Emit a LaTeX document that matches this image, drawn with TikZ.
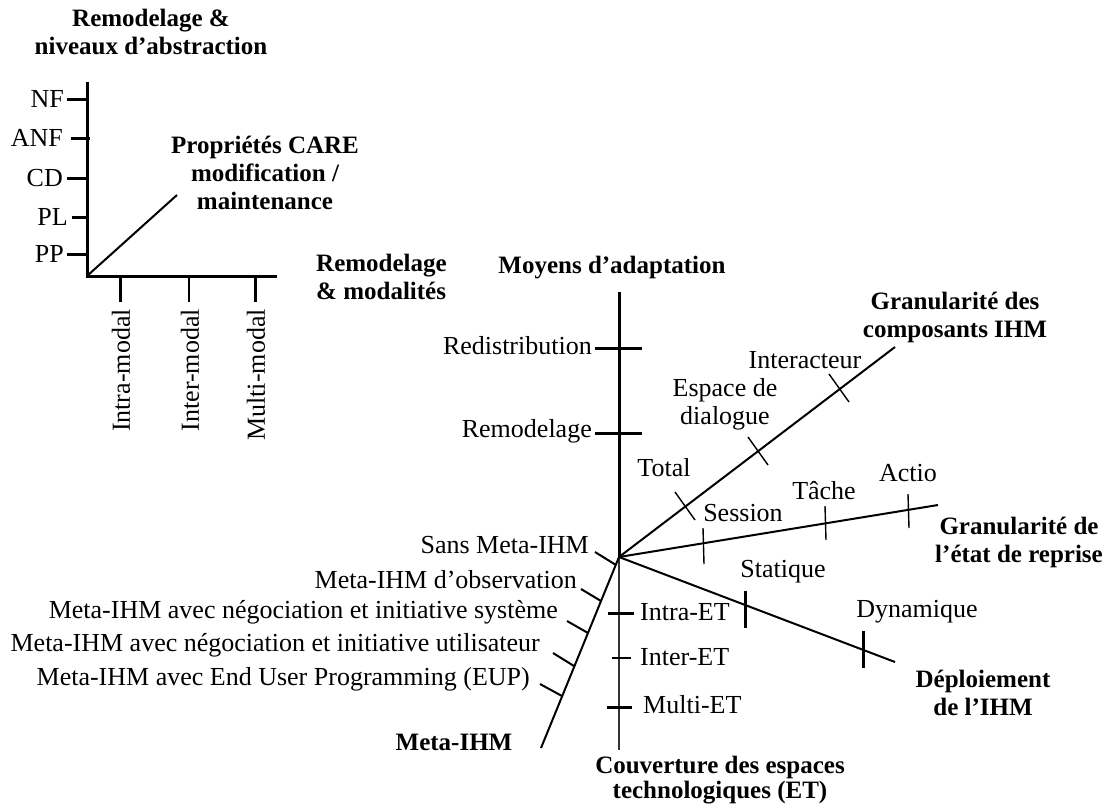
\documentclass[tikz,border=0pt]{standalone}
\usepackage{fontspec}
\setmainfont{Liberation Serif}
\begin{document}
\begin{tikzpicture}[x=1pt,y=-1pt,
  lab/.style={font=\fontsize{26}{28}\selectfont, inner sep=0pt, align=center},
  ttl/.style={font=\fontsize{25}{28}\selectfont\bfseries, inner sep=0pt, align=center},
  axthick/.style={line width=3pt},
  axthin/.style={line width=2pt},
  axfine/.style={line width=1.6pt, black!80},
  tk/.style={line width=3pt},
  tkmid/.style={line width=2pt},
  tkthin/.style={line width=1.4pt}]
\useasboundingbox (0,0) rectangle (1111,807);

% ---------- top-left small frame ----------
\coordinate (A0) at (87,276);
\coordinate (Atop) at (87,82);
\coordinate (Aright) at (277,276);
\coordinate (Adiag) at (177,195);
\draw[axthick] (Atop) -- (A0) -- (Aright);
\draw[axthin] (A0) -- (Adiag);

\node[ttl] (t1) at (151,32) {Remodelage \&\\niveaux d’abstraction};
\node[ttl] (t2) at (265,173) {Propriétés CARE\\modification /\\maintenance};
\node[ttl, align=left, anchor=west] (t3) at (316,277) {Remodelage\\\& modalités};

\node[lab, anchor=east] (nf)  at (64,99)  {NF};
\node[lab, anchor=east] (anf) at (63,138) {ANF};
\node[lab, anchor=east] (cd)  at (63,178) {CD};
\node[lab, anchor=east] (pl)  at (68,217) {PL};
\node[lab, anchor=east] (pp)  at (64,254) {PP};
\draw[tk] (67,99) -- (87,99);
\draw[tk] (71,138) -- (90,138);
\draw[tk] (67,178) -- (87,178);
\draw[tk] (72,217) -- (87,217);
\draw[tk] (67,254) -- (87,254);

\draw[tk] (120,276) -- (120,302);
\draw[tkmid] (189,276) -- (189,302);
\draw[tk] (255,276) -- (255,302);
\node[lab, rotate=90, anchor=east] (intram) at (121,309) {Intra-modal};
\node[lab, rotate=90, anchor=east] (interm) at (190,309) {Inter-modal};
\node[lab, rotate=90, anchor=east] (multim) at (256,309) {Multi-modal};

% ---------- main star ----------
\coordinate (O) at (619,557);
\coordinate (Vtop) at (619,292);
\coordinate (Vbot) at (619,750);
\coordinate (Gc) at (895,347);
\coordinate (Gr) at (938,505);
\coordinate (Dp) at (895,662);
\coordinate (Mi) at (541,748);

\draw[axthick] (Vtop) -- (O);
\draw[axfine] (O) -- (Vbot);
\draw[axthin] (O) -- (Gc);
\draw[axthin] (O) -- (Gr);
\draw[axthin] (O) -- (Dp);
\draw[axthin] (O) -- (Mi);

% Moyens d'adaptation
\node[ttl] (moy) at (612,268) {Moyens d’adaptation};
\draw[tk] (595,348) -- (642,348);
\draw[tk] (595,433) -- (642,433);
\node[lab, anchor=east] (redis) at (592,346) {Redistribution};
\node[lab, anchor=east] (remod) at (592,431) {Remodelage};

% Couverture ET
\draw[tk] (608,613) -- (634,613);
\draw[tkthin] (612,658) -- (631,658);
\draw[tk] (607,707) -- (632,707);
\node[lab, anchor=west] (intra) at (640,612) {Intra-ET};
\node[lab, anchor=west] (inter) at (640,657) {Inter-ET};
\node[lab, anchor=west] (multi) at (643,705) {Multi-ET};
\node[ttl, font=\fontsize{25}{25}\selectfont\bfseries] (couv) at (720,780) {Couverture des espaces\\technologiques (ET)};

% Granularite des composants
\draw[tkthin] (675,492) -- (695,520);
\draw[tkthin] (748,437) -- (768,465);
\draw[tkthin] (829,374) -- (849,402);
\node[lab] (total) at (664,468) {Total};
\node[lab] (espace) at (725,404) {Espace de\\dialogue};
\node[lab] (interac) at (805,360) {Interacteur};
\node[ttl] (gc) at (955,317) {Granularité des\\composants IHM};

% Granularite de l'etat de reprise
\draw[tkthin] (703,528) -- (704,564);
\draw[tkthin] (825,506) -- (826,540);
\draw[tkthin] (908,494) -- (909,528);
\node[lab] (session) at (743,513) {Session};
\node[lab] (tache) at (824,491) {Tâche};
\node[lab] (actio) at (908,473) {Actio};
\node[ttl] (gr) at (1019,542) {Granularité de\\l’état de reprise};

% Deploiement
\draw[tk] (745,591) -- (745,628);
\draw[tk] (863,631) -- (863,668);
\node[lab] (stat) at (783,572) {Statique};
\node[lab] (dyn) at (917,612) {Dynamique};
\node[ttl] (dep) at (983,693) {Déploiement\\de l’IHM};

% Meta-IHM
\draw[tkmid] (595,552) -- (616,565);
\draw[tkmid] (581,589) -- (601,601);
\draw[tkmid] (567,621) -- (588,633);
\draw[tkmid] (553,653) -- (574,666);
\draw[tkmid] (540,684) -- (562,696);
\node[lab, anchor=east] (m0) at (589,545) {Sans Meta-IHM};
\node[lab, anchor=east] (m1) at (577,580) {Meta-IHM d’observation};
\node[lab, anchor=east] (m2) at (558,612) {Meta-IHM avec négociation et initiative système};
\node[lab, anchor=east] (m3) at (540,645) {Meta-IHM avec négociation et initiative utilisateur};
\node[lab, anchor=east] (m4) at (530,679) {Meta-IHM avec End User Programming (EUP)};
\node[ttl] (meta) at (454,742) {Meta-IHM};
\end{tikzpicture}
\end{document}
